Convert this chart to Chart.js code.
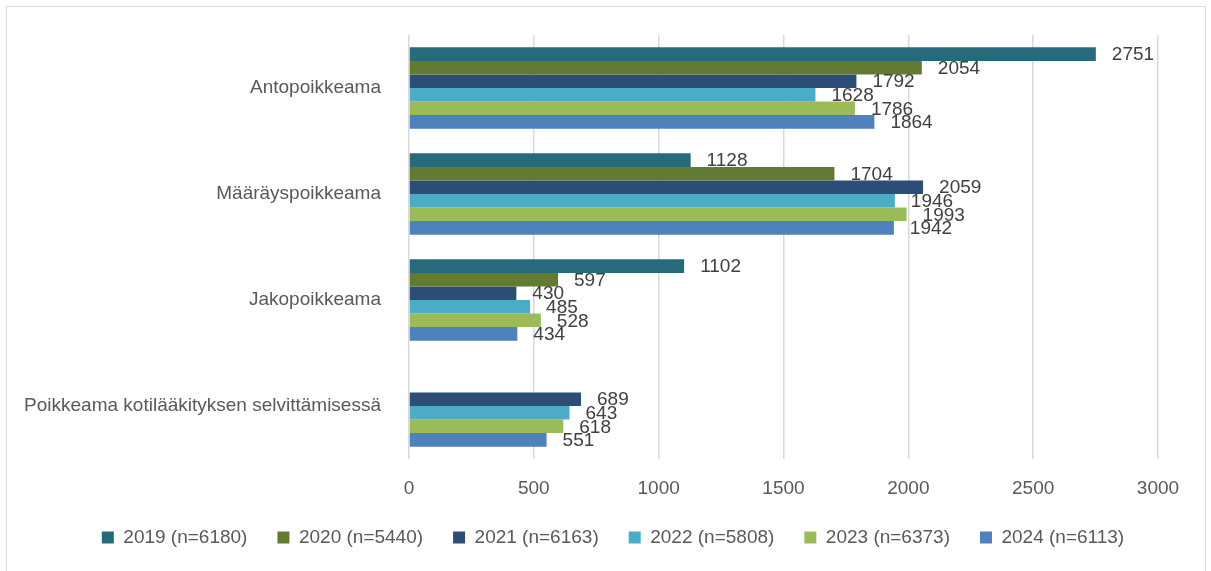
<!DOCTYPE html>
<html>
<head>
<meta charset="utf-8">
<script src="https://cdn.jsdelivr.net/npm/chart.js@4"></script>
<style>
  html, body { margin: 0; padding: 0; background: #fff; overflow: hidden; }
  #wrap { position: relative; width: 1211px; height: 571px; }
  #frame { position: absolute; left: 6px; top: 6px; width: 1200px; height: 600px;
           border: 1.5px solid #d9d9d9; box-sizing: border-box; }
  canvas { position: absolute; left: 0; top: 0; }
</style>
</head>
<body>
<div id="wrap">
  <div id="frame"></div>
  <canvas id="chart" width="1211" height="571"></canvas>
</div>
<script>
// ─── Data ───
const categories = ['Antopoikkeama', 'Määräyspoikkeama', 'Jakopoikkeama', 'Poikkeama kotilääkityksen selvittämisessä'];
const seriesNames = ['2019 (n=6180)', '2020 (n=5440)', '2021 (n=6163)', '2022 (n=5808)', '2023 (n=6373)', '2024 (n=6113)'];
const values2019 = [2751, 1128, 1102, null];
const values2020 = [2054, 1704, 597, null];
const values2021 = [1792, 2059, 430, 689];
const values2022 = [1628, 1946, 485, 643];
const values2023 = [1786, 1993, 528, 618];
const values2024 = [1864, 1942, 434, 551];
const xTicks = [0, 500, 1000, 1500, 2000, 2500, 3000];

const seriesValues = [values2019, values2020, values2021, values2022, values2023, values2024];
const colors = ['#276A7C', '#637A32', '#2C4D75', '#4BACC6', '#9BBB59', '#4F81BD'];
const FONT = '"Liberation Sans", Arial, sans-serif';

// ─── Value labels right of each bar ───
const valueLabels = {
    id: 'valueLabels',
    afterDatasetsDraw(chart) {
        const ctx = chart.ctx;
        ctx.save();
        ctx.font = '19px ' + FONT;
        ctx.fillStyle = '#404040';
        ctx.textAlign = 'left';
        ctx.textBaseline = 'middle';
        chart.data.datasets.forEach((ds, i) => {
            const meta = chart.getDatasetMeta(i);
            meta.data.forEach((bar, j) => {
                const v = ds.data[j];
                if (v === null || v === undefined) return;
                ctx.fillText(String(v), bar.x + 16, bar.y + 1);
            });
        });
        ctx.restore();
    }
};

// ─── Nudge the legend row to the right, as in the original ───
const legendShift = {
    id: 'legendShift',
    afterLayout(chart) {
        if (chart.legend) chart.legend.left += 68;
    }
};

new Chart(document.getElementById('chart'), {
    type: 'bar',
    data: {
        labels: categories,
        datasets: seriesNames.map((name, i) => ({
            label: name,
            data: seriesValues[i],
            backgroundColor: colors[i],
            borderWidth: 0,
            categoryPercentage: 0.767,
            barPercentage: 1.0,
        }))
    },
    options: {
        indexAxis: 'y',
        responsive: false,
        animation: false,
        layout: { padding: { top: 35, right: 53, bottom: 14, left: 0 } },
        plugins: {
            legend: {
                position: 'bottom',
                labels: {
                    boxWidth: 12,
                    boxHeight: 12,
                    padding: 30,
                    color: '#595959',
                    font: { size: 19, family: FONT },
                }
            },
            tooltip: { enabled: false },
        },
        scales: {
            x: {
                min: 0,
                max: 3000,
                afterBuildTicks: (axis) => { axis.ticks = xTicks.map(v => ({ value: v })); },
                afterFit: (axis) => { axis.height = 39; },
                grid: { color: '#d9d9d9', lineWidth: 1.5, drawTicks: false },
                border: { display: false },
                ticks: {
                    color: '#595959',
                    padding: 18,
                    font: { size: 19, family: FONT },
                    callback: (v) => String(v),
                },
            },
            y: {
                afterFit: (axis) => { axis.width = 409; },
                grid: { display: false },
                border: { display: false },
                ticks: { color: '#595959', padding: 20, font: { size: 19, family: FONT } },
            }
        }
    },
    plugins: [valueLabels, legendShift]
});
</script>
</body>
</html>
